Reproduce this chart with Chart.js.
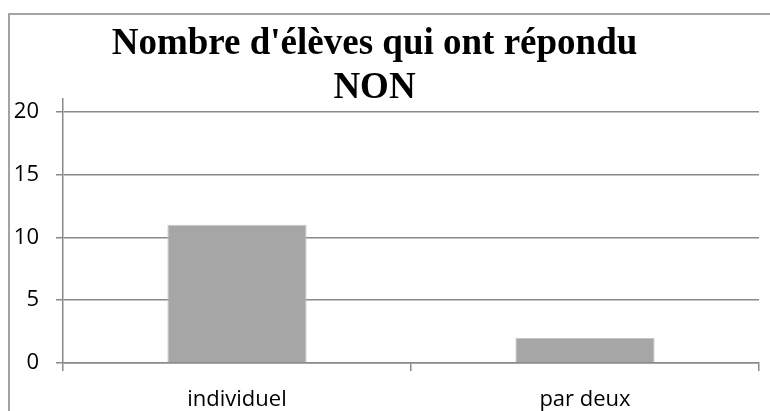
<!DOCTYPE html>
<html>
<head>
<meta charset="utf-8">
<script src="https://cdn.jsdelivr.net/npm/chart.js@4"></script>
<style>
  html, body { margin: 0; padding: 0; background: #fff; overflow: hidden; }
  #wrap { position: relative; width: 770px; height: 411px; }
  #frame { position: absolute; left: 8px; top: 13px; width: 800px; height: 500px; border: 2px solid #a3a3a3; box-sizing: border-box; }
  canvas { position: absolute; left: 0; top: 0; }
</style>
</head>
<body>
<div id="wrap">
  <div id="frame"></div>
  <canvas id="chart" width="770" height="411"></canvas>
</div>
<script>
// ===== DATA =====
const titleLines = ["Nombre d'élèves qui ont répondu", 'NON'];
const categories = ['individuel', 'par deux'];
const values = [11, 2];
const yTickValues = [0, 5, 10, 15, 20];

const AXIS_GRAY = '#898989';
const BAR_GRAY = '#a6a6a6';

// shift the title centre a bit left, like the original
const titleShift = {
  id: 'titleShift',
  afterLayout(chart) {
    if (chart.titleBlock) chart.titleBlock.right -= 10;
  }
};

new Chart(document.getElementById('chart'), {
  type: 'bar',
  data: {
    labels: categories,
    datasets: [{
      data: values,
      backgroundColor: BAR_GRAY,
      borderColor: '#c4c4c4',
      borderWidth: 1,
      categoryPercentage: 1,
      barPercentage: 0.4
    }]
  },
  options: {
    responsive: false,
    animation: false,
    devicePixelRatio: 1,
    layout: { padding: { left: 0, right: 11, top: 0, bottom: 0 } },
    plugins: {
      legend: { display: false },
      tooltip: { enabled: false },
      title: {
        display: true,
        text: titleLines,
        color: '#000',
        font: { family: '"Liberation Serif", "Times New Roman", serif', size: 37, weight: 'bold', lineHeight: 1.19 },
        padding: { top: 22, bottom: -11 }
      }
    },
    scales: {
      x: {
        offset: true,
        grid: { display: true, drawOnChartArea: false, drawTicks: true, tickLength: 8, offset: true, color: AXIS_GRAY, lineWidth: 1.5 },
        border: { display: true, color: AXIS_GRAY, width: 1.5 },
        ticks: { color: '#000', font: { family: '"Open Sans", sans-serif', size: 22 }, padding: 16 },
        afterFit(scale) { scale.height = 48; }
      },
      y: {
        min: 0,
        max: 21,
        grid: { color: AXIS_GRAY, lineWidth: 1.5, tickLength: 7 },
        border: { display: true, color: AXIS_GRAY, width: 1.5 },
        ticks: { color: '#000', font: { family: '"Open Sans", sans-serif', size: 22 }, padding: 17, includeBounds: false },
        afterBuildTicks(scale) { scale.ticks = yTickValues.map(v => ({ value: v })); },
        afterFit(scale) { scale.width = 63; }
      }
    }
  },
  plugins: [titleShift]
});
</script>
</body>
</html>
